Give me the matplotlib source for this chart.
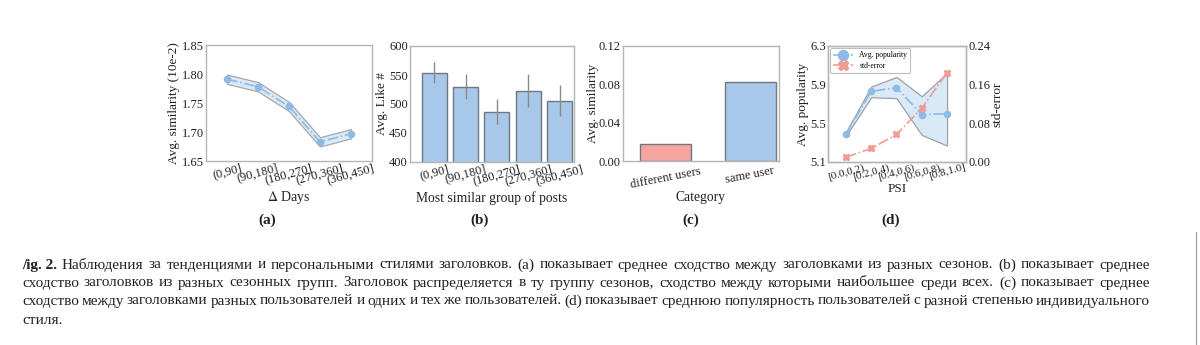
import matplotlib
matplotlib.use("Agg")
import matplotlib.pyplot as plt
import numpy as np

# ---------------- data ----------------
days_labels = ["(0,90]", "(90,180]", "(180,270]", "(270,360]", "(360,450]"]
sim_mean = [1.791, 1.778, 1.744, 1.683, 1.697]
sim_band = [0.008, 0.008, 0.008, 0.008, 0.008]

like_mean = [554, 530, 487, 523, 506]
like_err = [18, 21, 21, 28, 26]

cat_labels = ["different users", "same user"]
cat_values = [0.0177, 0.082]

psi_labels = ["[0.0,0.2)", "[0.2,0.4)", "[0.4,0.6)", "[0.6,0.8)", "[0.8,1.0]"]
pop_mean = [5.39, 5.83, 5.87, 5.59, 5.60]
pop_low = [5.37, 5.77, 5.76, 5.38, 5.27]
pop_high = [5.41, 5.88, 5.98, 5.78, 6.02]
std_err = [0.010, 0.028, 0.057, 0.111, 0.185]

caption_lines = [
    ["/ig. 2.", "Наблюдения за тенденциями и персональными стилями заголовков. (a) показывает среднее сходство между заголовками из разных сезонов. (b) показывает среднее"],
    [None, "сходство заголовков из разных сезонных групп. Заголовок распределяется в ту группу сезонов, сходство между которыми наибольшее среди всех. (c) показывает среднее"],
    [None, "сходство между заголовками разных пользователей и одних и тех же пользователей. (d) показывает среднюю популярность пользователей с разной степенью индивидуального"],
    [None, "стиля."],
]

# ---------------- style ----------------
FONT = "Liberation Serif"
plt.rcParams["font.family"] = [FONT, "DejaVu Serif"]
plt.rcParams["mathtext.fontset"] = "stix"
W, H = 1200, 345
fig = plt.figure(figsize=(W / 100, H / 100), dpi=100)

SPINE = "#b5b5b5"
TXT = "#222222"
BLUE_LINE = "#8dbbe6"
BLUE_FILL = "#d9e9f8"
BAR_BLUE = "#a8c8e9"
BAR_EDGE = "#6d7884"
RED_BAR = "#f6a5a1"
RED_LINE = "#ee9c94"
TICK_FS = 9
LAB_FS = 9.5


def px_axes(l, t, r, b):
    return fig.add_axes([l / W, 1 - b / H, (r - l) / W, (b - t) / H])


def style(ax):
    for s in ax.spines.values():
        s.set_color(SPINE)
        s.set_linewidth(1.0)
    ax.tick_params(length=0, labelsize=TICK_FS, colors=TXT, pad=1.5)
    ax.tick_params(axis="x", pad=0.5)


def rot_labels(ax, labels, fs=TICK_FS):
    ax.set_xticks(range(len(labels)))
    ax.set_xticklabels(labels, rotation=15, ha="center", fontsize=fs)


def xlabel_at(ax, text, top, bottom, ypx, fs):
    ax.set_xlabel(text, fontsize=fs, color=TXT, va="center")
    ax.xaxis.set_label_coords(0.5, (bottom - ypx) / (bottom - top))


# ---------------- (a) ----------------
ax = px_axes(206, 45, 372, 161)
style(ax)
x = np.arange(len(sim_mean))
lo = np.array(sim_mean) - np.array(sim_band)
hi = np.array(sim_mean) + np.array(sim_band)
ax.fill_between(x, lo, hi, facecolor=BLUE_FILL, edgecolor="#a8a8a8", linewidth=0.9)
ax.plot(x, sim_mean, linestyle="-.", color=BLUE_LINE, marker="o", markersize=4.5, linewidth=1.2)
ax.set_ylim(1.65, 1.85)
ax.set_yticks([1.65, 1.70, 1.75, 1.80, 1.85])
ax.set_yticklabels(["1.65", "1.70", "1.75", "1.80", "1.85"])
ax.set_xlim(-0.68, 4.68)
rot_labels(ax, days_labels)
ax.set_ylabel("Avg. similarity (10e-2)", fontsize=LAB_FS, color=TXT, labelpad=1)
xlabel_at(ax, r"$\Delta$ Days", 45, 161, 197, LAB_FS + 0.5)
fig.text(267 / W, 1 - 220 / H, "(a)", ha="center", va="center", fontsize=11, fontweight="bold", color=TXT)

# ---------------- (b) ----------------
ax = px_axes(410, 46, 574, 162)
style(ax)
x = np.arange(len(like_mean))
ax.bar(x, like_mean, width=0.8, color=BAR_BLUE, edgecolor=BAR_EDGE, linewidth=1.0)
ax.errorbar(x, like_mean, yerr=like_err, fmt="none", ecolor="#8a8a8a", elinewidth=1.0, capsize=0)
ax.set_ylim(400, 600)
ax.set_yticks([400, 450, 500, 550, 600])
ax.set_xlim(-0.77, 4.46)
rot_labels(ax, days_labels)
ax.set_ylabel("Avg. Like #", fontsize=LAB_FS, color=TXT, labelpad=1)
xlabel_at(ax, "Most similar group of posts", 46, 162, 198, LAB_FS + 0.3)
fig.text(480 / W, 1 - 220 / H, "(b)", ha="center", va="center", fontsize=11, fontweight="bold", color=TXT)

# ---------------- (c) ----------------
ax = px_axes(623, 46, 779, 161)
style(ax)
x = np.arange(len(cat_values))
ax.bar(x, cat_values, width=0.6, color=[RED_BAR, BAR_BLUE], edgecolor=BAR_EDGE, linewidth=1.0)
ax.set_ylim(0, 0.12)
ax.set_yticks([0.0, 0.04, 0.08, 0.12])
ax.set_yticklabels(["0.00", "0.04", "0.08", "0.12"])
ax.set_xlim(-0.5, 1.34)
ax.set_xticks(range(len(cat_labels)))
ax.set_xticklabels(cat_labels, rotation=11, ha="center", fontsize=TICK_FS)
ax.tick_params(axis="x", pad=3)
ax.set_ylabel("Avg. similarity", fontsize=LAB_FS, color=TXT, labelpad=0)
xlabel_at(ax, "Category", 46, 161, 197, LAB_FS + 0.3)
fig.text(691 / W, 1 - 220 / H, "(c)", ha="center", va="center", fontsize=11, fontweight="bold", color=TXT)

# ---------------- (d) ----------------
ax = px_axes(828, 46, 966, 162)
style(ax)
x = np.arange(len(pop_mean))
ax.fill_between(x, pop_low, pop_high, facecolor=BLUE_FILL, edgecolor="#a0a0a0", linewidth=0.9)
l1, = ax.plot(x, pop_mean, linestyle="-.", color=BLUE_LINE, marker="o", markersize=4.5, linewidth=1.2,
              label="Avg. popularity")
ax.set_ylim(5.1, 6.3)
ax.set_yticks([5.1, 5.5, 5.9, 6.3])
ax.set_xlim(-0.71, 4.75)
rot_labels(ax, psi_labels, fs=8)
ax.set_ylabel("Avg. popularity", fontsize=LAB_FS, color=TXT, labelpad=1)
xlabel_at(ax, "PSI", 46, 162, 189, LAB_FS)
ax2 = ax.twinx()
style(ax2)
l2, = ax2.plot(x, std_err, linestyle="-.", color=RED_LINE, marker="X", markersize=4.5, linewidth=1.2,
               label="std-error")
ax2.set_ylim(0, 0.24)
ax2.set_yticks([0.0, 0.08, 0.16, 0.24])
ax2.set_yticklabels(["0.00", "0.08", "0.16", "0.24"])
ax2.set_ylabel("std-error", fontsize=LAB_FS, color=TXT, labelpad=1)
leg = ax.legend(handles=[l1, l2], loc="upper left", fontsize=5.5, frameon=True, borderpad=0.4,
                handlelength=2.6, markerscale=1.6, labelspacing=0.3, borderaxespad=0.3,
                fancybox=True)
leg.get_frame().set_edgecolor("#b0b0b0")
leg.get_frame().set_linewidth(0.8)
fig.text(891 / W, 1 - 220 / H, "(d)", ha="center", va="center", fontsize=11, fontweight="bold", color=TXT)

# ---------------- caption (justified) ----------------
CAP_FS = 11
x_left, x_right = 22, 1150
ys = [265, 283, 301, 320]
renderer = fig.canvas.get_renderer()


def width_px(s, bold=False):
    t = fig.text(0, 0, s, fontsize=CAP_FS, fontweight="bold" if bold else "normal", color=TXT)
    w = t.get_window_extent(renderer).width
    t.remove()
    return w


for i, (bold_part, rest) in enumerate(caption_lines):
    y = 1 - ys[i] / H
    items = []
    if bold_part:
        items.append((bold_part, True))
    items += [(w, False) for w in rest.split(" ")]
    widths = [width_px(s, b) for s, b in items]
    justify = i < len(caption_lines) - 1
    if justify and len(items) > 1:
        gap = (x_right - x_left - sum(widths)) / (len(items) - 1)
    else:
        gap = width_px("a b") - width_px("ab")
    cx = x_left
    for (s, b), w in zip(items, widths):
        fig.text(cx / W, y, s, fontsize=CAP_FS, fontweight="bold" if b else "normal", color=TXT,
                 va="center", ha="left")
        cx += w + gap

# thin page-frame line on the right
fig.add_artist(plt.Line2D([1196 / W, 1196 / W], [0, 1 - 232 / H], color="#9a9a9a", linewidth=0.8))

fig.savefig("out.png", dpi=100)
